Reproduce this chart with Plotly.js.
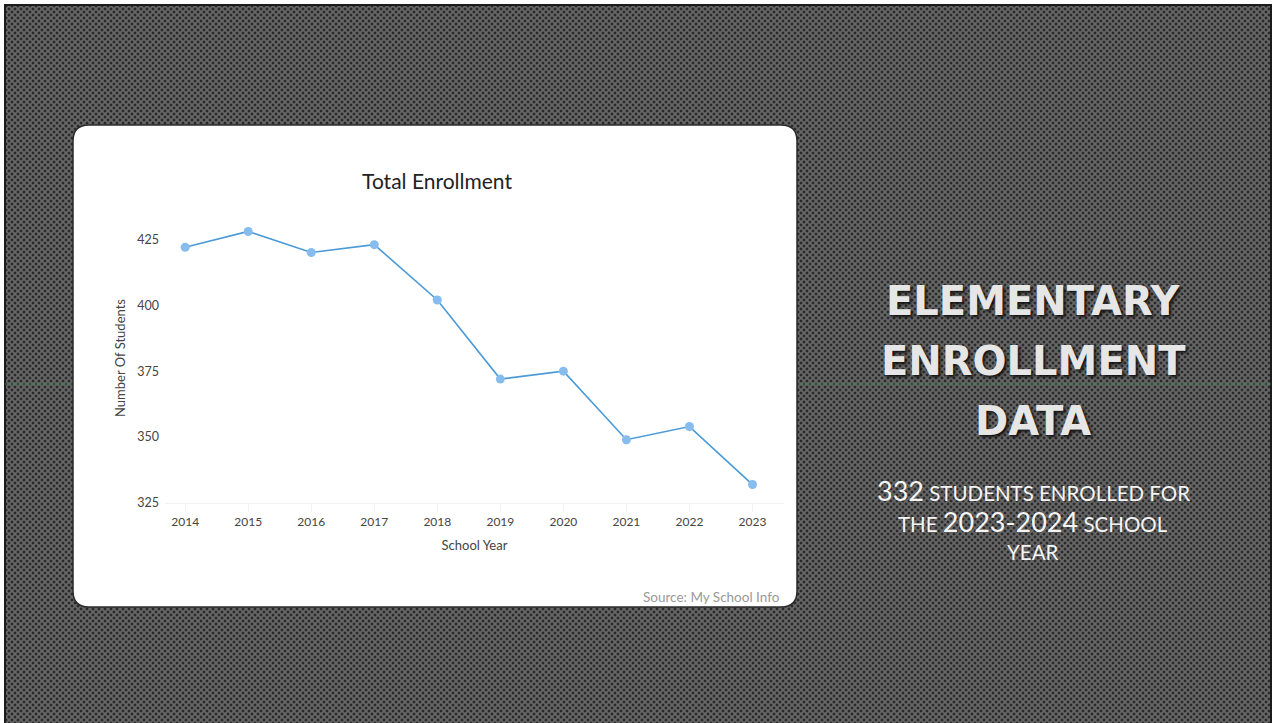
<!DOCTYPE html>
<html>
<head>
<meta charset="utf-8">
<script src="https://cdn.plot.ly/plotly-3.0.1.min.js"></script>
<style>
  html, body { margin: 0; padding: 0; background: #fff; }
  #slide {
    position: absolute; left: 4px; top: 4px; width: 1264px; height: 722px;
    border: 2px solid #1c1c1c; border-bottom: none;
    background-color: #686868;
    background-image:
      radial-gradient(circle, #2a2a2a 1.1px, rgba(0,0,0,0) 1.8px),
      radial-gradient(circle, #2a2a2a 1.1px, rgba(0,0,0,0) 1.8px);
    background-size: 6px 6px, 6px 6px;
    background-position: 0 0, 3px 3px;
  }
  #chart { position: absolute; left: 0; top: 0; width: 1278px; height: 723px; }
</style>
</head>
<body>
<div id="slide"></div>
<div id="chart"></div>
<script>
// enrollment data
var years = [2014, 2015, 2016, 2017, 2018, 2019, 2020, 2021, 2022, 2023];
var students = [422, 428, 420, 423, 402, 372, 375, 349, 354, 332];
var yTicks = [325, 350, 375, 400, 425];

var W = 1278, H = 723;
var mar = {l: 165, r: 494, t: 213, b: 220};
var plotW = W - mar.l - mar.r, plotH = H - mar.t - mar.b;

// pixel -> paper coords
function px(x) { return (x - mar.l) / plotW; }
function py(y) { return (H - mar.b - y) / plotH; }

function roundRect(x0, y0, x1, y1, r) {
    var p = function (x, y) { return px(x) + ',' + py(y); };
    return 'M' + p(x0 + r, y0) + ' L' + p(x1 - r, y0) + ' Q' + p(x1, y0) + ' ' + p(x1, y0 + r) +
        ' L' + p(x1, y1 - r) + ' Q' + p(x1, y1) + ' ' + p(x1 - r, y1) +
        ' L' + p(x0 + r, y1) + ' Q' + p(x0, y1) + ' ' + p(x0, y1 - r) +
        ' L' + p(x0, y0 + r) + ' Q' + p(x0, y0) + ' ' + p(x0 + r, y0) + ' Z';
}

var data = [{
    x: years,
    y: students,
    type: 'scatter',
    mode: 'lines+markers',
    line: {color: '#4a9ad8', width: 1.6},
    marker: {color: '#86bdee', size: 9},
    cliponaxis: false
}];

var bigFont = {family: 'DejaVu Sans, Liberation Sans, sans-serif', size: 40, color: '#e6e6e6', weight: 'bold',
    shadow: '2px 2px 3px #111'};
var subFont = {family: 'Lato, Open Sans, sans-serif', size: 20.5, color: '#f4f4f4'};

var layout = {
    width: W, height: H,
    margin: mar,
    paper_bgcolor: 'rgba(0,0,0,0)',
    plot_bgcolor: 'rgba(0,0,0,0)',
    showlegend: false,
    font: {family: 'Lato, Open Sans, sans-serif', color: '#444'},
    title: {
        text: 'Total Enrollment',
        font: {family: 'Lato, Open Sans, sans-serif', size: 21, color: '#222'},
        xref: 'container', yref: 'container',
        x: 437 / W, y: 1 - 182 / H, xanchor: 'center', yanchor: 'middle'
    },
    xaxis: {
        range: [2013.68, 2023.5],
        tickvals: years,
        ticktext: years.map(String),
        showgrid: false, zeroline: false,
        showline: true, linecolor: '#f2f2f2',
        ticks: 'outside', ticklen: 8, tickcolor: '#f2f2f2',
        tickfont: {size: 12, color: '#444'},
        title: {text: 'School Year', font: {size: 13, color: '#444'}, standoff: 12}
    },
    yaxis: {
        range: [325, 435],
        tickvals: yTicks,
        showgrid: false, zeroline: false, showline: false,
        ticklabelstandoff: 5,
        tickfont: {size: 12.5, color: '#444'},
        title: {text: 'Number Of Students', font: {size: 13, color: '#444'}, standoff: 8}
    },
    shapes: [
        // scan line across the slide
        {type: 'line', xref: 'paper', yref: 'paper', layer: 'below',
            x0: px(5), x1: px(1271), y0: py(384), y1: py(384),
            line: {color: 'rgba(70,150,90,0.7)', width: 1}},
        // white chart card
        {type: 'path', xref: 'paper', yref: 'paper', layer: 'below',
            path: roundRect(73, 125, 797, 607, 16),
            fillcolor: '#ffffff', line: {color: '#2a2a2a', width: 1.5}}
    ],
    annotations: [
        {text: 'Source: My School Info', xref: 'paper', yref: 'paper', x: px(782), y: py(597),
            xanchor: 'right', yanchor: 'middle', showarrow: false,
            font: {size: 13.5, color: '#999'}},
        {text: 'ELEMENTARY', xref: 'paper', yref: 'paper', x: px(1033), y: py(301),
            xanchor: 'center', yanchor: 'middle', showarrow: false, font: bigFont},
        {text: 'ENROLLMENT', xref: 'paper', yref: 'paper', x: px(1033), y: py(361),
            xanchor: 'center', yanchor: 'middle', showarrow: false, font: bigFont},
        {text: 'DATA', xref: 'paper', yref: 'paper', x: px(1033), y: py(421),
            xanchor: 'center', yanchor: 'middle', showarrow: false, font: bigFont},
        {text: '<span style="font-size:27px">332</span> STUDENTS ENROLLED FOR', xref: 'paper', yref: 'paper',
            x: px(1033), y: py(490), xanchor: 'center', yanchor: 'middle', showarrow: false, font: subFont},
        {text: 'THE <span style="font-size:27px">2023-2024</span> SCHOOL', xref: 'paper', yref: 'paper',
            x: px(1033), y: py(521), xanchor: 'center', yanchor: 'middle', showarrow: false, font: subFont},
        {text: 'YEAR', xref: 'paper', yref: 'paper', x: px(1033), y: py(552),
            xanchor: 'center', yanchor: 'middle', showarrow: false, font: subFont}
    ]
};

Plotly.newPlot('chart', data, layout, {staticPlot: true});
</script>
</body>
</html>
